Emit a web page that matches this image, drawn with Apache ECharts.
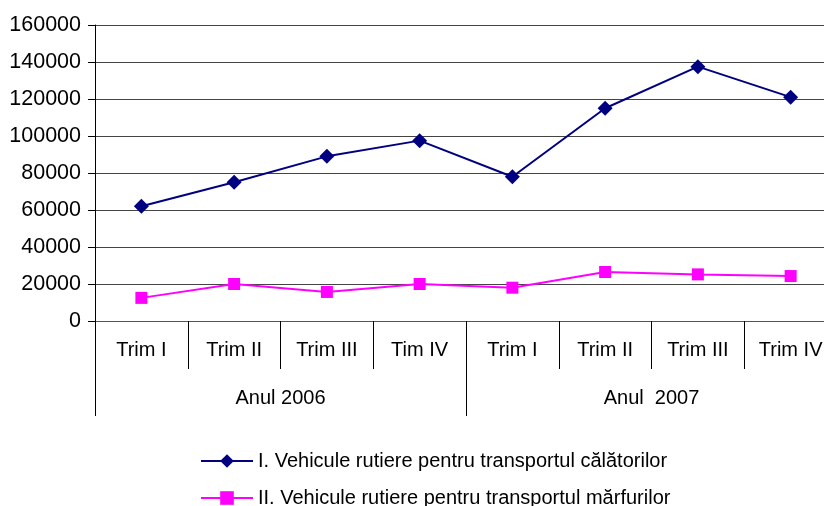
<!DOCTYPE html>
<html>
<head>
<meta charset="utf-8">
<script src="https://cdn.jsdelivr.net/npm/echarts@6/dist/echarts.min.js"></script>
<style>
  html, body { margin: 0; padding: 0; background: #fff; overflow: hidden; }
  /* zona graficului continua putin dincolo de marginea dreapta, ca in original */
  #chart { width: 837px; height: 506px; }
</style>
</head>
<body>
<div id="chart"></div>
<script>
// date
const quarters = ['Trim I', 'Trim II', 'Trim III', 'Tim IV', 'Trim I', 'Trim II', 'Trim III', 'Trim IV'];
const years = ['Anul 2006', 'Anul  2007'];
const calatori = [62000, 75000, 89000, 97500, 78000, 115000, 137500, 121000];
const marfuri = [12500, 20000, 15700, 20000, 18000, 26500, 25200, 24300];
const seriesNames = [
  'I. Vehicule rutiere pentru transportul călătorilor',
  'II. Vehicule rutiere pentru transportul mărfurilor'
];

const FONT = 'Liberation Sans, Arial, sans-serif';
const TEXT = '#000';

const chart = echarts.init(document.getElementById('chart'));

chart.setOption({
  backgroundColor: '#fff',
  animation: false,
  textStyle: { fontFamily: FONT, color: TEXT },
  grid: { left: 95, right: 0, top: 25, bottom: 185 },
  legend: {
    orient: 'vertical',
    left: 195,
    top: 446,
    height: 120,
    itemWidth: 52,
    itemHeight: 17,
    itemGap: 17,
    textStyle: { fontFamily: FONT, fontSize: 20, color: TEXT },
    data: seriesNames
  },
  xAxis: [
    {
      type: 'category',
      data: quarters,
      boundaryGap: true,
      axisLine: { lineStyle: { color: '#555', width: 1 } },
      axisTick: { show: true, length: 48, interval: 0, lineStyle: { color: '#000' } },
      axisLabel: { interval: 0, margin: 19, fontSize: 20, color: TEXT, fontFamily: FONT },
      splitLine: { show: false }
    },
    {
      type: 'category',
      data: years,
      position: 'bottom',
      boundaryGap: true,
      axisLine: { show: false },
      axisTick: { show: true, length: 95, interval: 0, lineStyle: { color: '#000' } },
      axisLabel: { interval: 0, margin: 67, fontSize: 20, color: TEXT, fontFamily: FONT },
      splitLine: { show: false }
    }
  ],
  yAxis: {
    type: 'value',
    min: 0,
    max: 160000,
    interval: 20000,
    axisLine: { show: true, lineStyle: { color: '#000', width: 1 } },
    axisTick: { show: true, length: 7, lineStyle: { color: '#000' } },
    axisLabel: {
      margin: 14,
      fontSize: 21.5,
      color: TEXT,
      fontFamily: FONT,
      formatter: (v) => String(v)
    },
    splitLine: { show: true, lineStyle: { color: '#444', width: 1 } }
  },
  series: [
    {
      name: seriesNames[0],
      type: 'line',
      data: calatori,
      symbol: 'diamond',
      symbolSize: 15,
      itemStyle: { color: '#000080' },
      lineStyle: { color: '#000080', width: 2 }
    },
    {
      name: seriesNames[1],
      type: 'line',
      data: marfuri,
      symbol: 'rect',
      symbolSize: 12,
      itemStyle: { color: '#ff00ff' },
      lineStyle: { color: '#ff00ff', width: 2 }
    }
  ]
});

window.addEventListener('resize', () => chart.resize());
</script>
</body>
</html>
